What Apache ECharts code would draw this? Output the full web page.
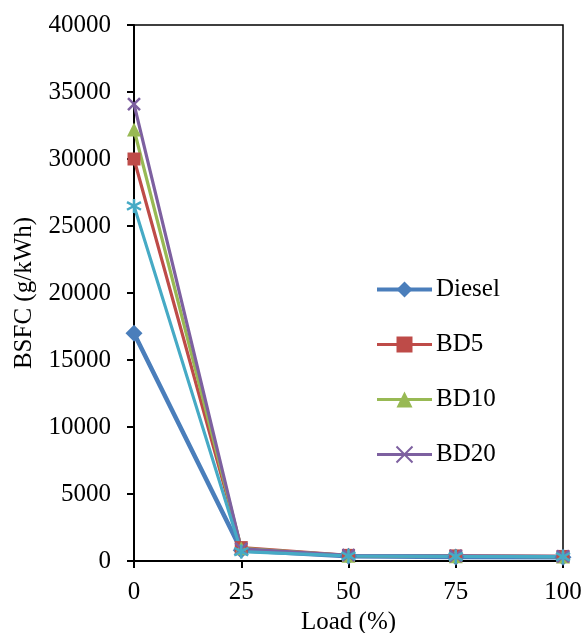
<!DOCTYPE html>
<html>
<head>
<meta charset="utf-8">
<script src="https://cdn.jsdelivr.net/npm/echarts@6/dist/echarts.min.js"></script>
<style>html,body{margin:0;padding:0;background:#fff}#c{width:587px;height:633px}</style>
</head>
<body>
<div id="c"></div>
<script>
const loads = [0, 25, 50, 75, 100];
const diesel = [17000, 800, 350, 300, 280];
const bd5 = [30000, 1000, 420, 380, 340];
const bd10 = [32200, 950, 400, 360, 330];
const bd20 = [34100, 900, 430, 390, 350];
const bd30 = [26500, 700, 380, 340, 320];
const seriesNames = ['Diesel', 'BD5', 'BD10', 'BD20', 'BD30'];
const legendNames = ['Diesel', 'BD5', 'BD10', 'BD20'];

const colors = ['#4A7EBB', '#BE4B48', '#98B954', '#7D60A0', '#46AAC5'];
const lineWidths = [4.5, 3.2, 3.2, 3.2, 3.2];
const pairs = arr => loads.map((x, i) => [x, arr[i]]);
const xPath = 'path://M-1,-1L1,1M-1,1L1,-1';
const starPath = 'path://M0,-1L0,1M-0.95,-0.55L0.95,0.55M-0.95,0.55L0.95,-0.55';

function mk(i, data, symbol, size, stroke) {
  const color = colors[i];
  const s = {
    name: seriesNames[i], type: 'line', data: pairs(data), symbol, symbolSize: size,
    lineStyle: { color, width: lineWidths[i] }, itemStyle: { color }, z: 2
  };
  if (stroke) s.itemStyle = { color: 'rgba(0,0,0,0)', borderColor: color, borderWidth: 2.5 };
  return s;
}

const chart = echarts.init(document.getElementById('c'));
chart.setOption({
  animation: false,
  textStyle: { fontFamily: 'Liberation Serif' },
  grid: { left: 134, right: 24, top: 25, bottom: 72, outerBoundsMode: 'none', containLabel: false, show: true, borderColor: '#000', borderWidth: 1.5 },
  legend: {
    data: legendNames.map((n, i) => ({ name: n, lineStyle: { width: i === 0 ? 4 : 3 } })),
    orient: 'vertical', left: 375, top: 277, padding: 0,
    itemWidth: 55, itemHeight: 20, itemGap: 30,
    textStyle: { fontSize: 25, color: '#000', fontFamily: 'Liberation Serif', padding: [0, 0, 0, -1] }
  },
  xAxis: {
    type: 'value', min: 0, max: 100, interval: 25,
    name: 'Load (%)', nameLocation: 'middle', nameGap: 32,
    nameTextStyle: { fontSize: 25, color: '#000' },
    axisLine: { lineStyle: { color: '#000', width: 2 } },
    axisTick: { show: true, inside: false, length: 7, lineStyle: { color: '#000', width: 2 } },
    axisLabel: { fontSize: 25, color: '#000', margin: 19 },
    splitLine: { show: false }
  },
  yAxis: {
    type: 'value', min: 0, max: 40000, interval: 5000,
    name: 'BSFC (g/kWh)', nameLocation: 'middle', nameGap: 97, nameRotate: 90,
    nameTextStyle: { fontSize: 25, color: '#000' },
    axisLine: { show: true, lineStyle: { color: '#000', width: 2 } },
    axisTick: { show: true, inside: false, length: 7, lineStyle: { color: '#000', width: 2 } },
    axisLabel: { fontSize: 25, color: '#000', margin: 23, formatter: v => String(v) },
    splitLine: { show: false }
  },
  series: [
    mk(0, diesel, 'diamond', 17),
    mk(1, bd5, 'rect', 13),
    mk(2, bd10, 'triangle', 14),
    mk(3, bd20, xPath, 12, true),
    mk(4, bd30, starPath, 14, true)
  ]
});
</script>
</body>
</html>
